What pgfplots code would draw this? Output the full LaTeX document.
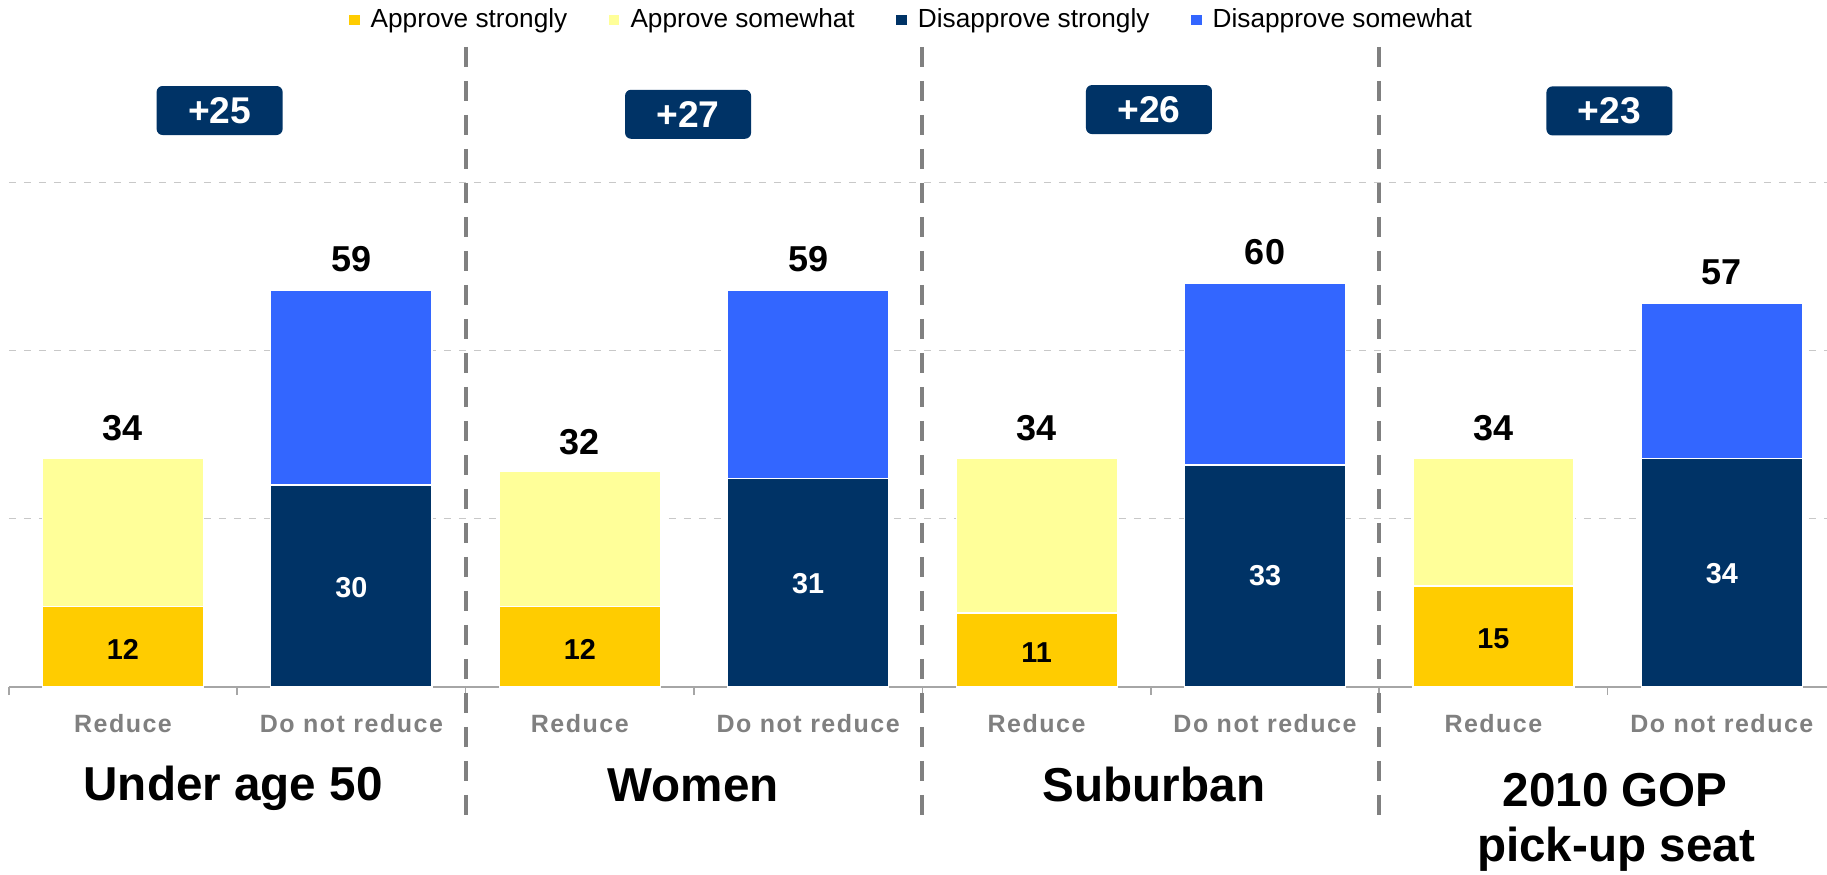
\documentclass[border=0pt]{standalone}
\usepackage{pgfplots}
\pgfplotsset{compat=1.18}
\usepackage{fontspec}
\setmainfont{Liberation Sans}
\newfontfamily\spacedfont[LetterSpace=6]{Liberation Sans}
\definecolor{apstrong}{HTML}{FFCC00}
\definecolor{apsome}{HTML}{FFFF99}
\definecolor{disstrong}{HTML}{003366}
\definecolor{dissome}{HTML}{3366FF}
\definecolor{sepgray}{HTML}{808080}
\definecolor{gridgray}{HTML}{C8C8C8}
\definecolor{axgray}{HTML}{A6A6A6}
\definecolor{catgray}{HTML}{808080}

\pgfplotsset{
  common/.style={x=114.2pt, y=3.365pt, xmin=-0.5, xmax=7.4606, ymin=0, ymax=102.08, clip=false},
  sq/.style={legend image code/.code={\fill[##1] (0pt,-3pt) rectangle (6pt,3pt);}},
  lab/.style={only marks, mark=text, text mark={}, nodes near coords, point meta=explicit symbolic},
}

\begin{document}
\begin{tikzpicture}
\begin{axis}[common,
  ybar stacked, bar width=80.5pt,
  axis line style={draw=none},
  ytick={25,50,75}, yticklabels={}, ytick style={draw=none},
  ymajorgrids=true, grid style={gridgray, dash pattern=on 3.5pt off 4pt, line width=0.5pt},
  xtick={-0.5,0.5,...,6.5}, xticklabels={},
  tick align=outside, xtick pos=bottom, major tick length=4pt,
  xtick style={axgray, line width=0.75pt},
  legend columns=4,
  legend style={at={(0.4955,0.971)}, anchor=center, draw=none, fill=none,
    inner sep=0pt, font=\fontsize{13.1}{15}\selectfont,
    nodes={inner sep=0pt},
    /tikz/every odd column/.append style={column sep=5pt},
    /tikz/every even column/.append style={column sep=20pt}},
]
\addplot[fill=apstrong, draw=white, line width=0.6pt, sq] coordinates {(0,12) (1,0) (2,12) (3,0) (4,11) (5,0) (6,15) (7,0)};
\addplot[fill=apsome, draw=white, line width=0.6pt, sq] coordinates {(0,22) (1,0) (2,20) (3,0) (4,23) (5,0) (6,19) (7,0)};
\addplot[fill=disstrong, draw=white, line width=0.6pt, sq] coordinates {(0,0) (1,30) (2,0) (3,31) (4,0) (5,33) (6,0) (7,34)};
\addplot[fill=dissome, draw=white, line width=0.6pt, sq] coordinates {(0,0) (1,29) (2,0) (3,28) (4,0) (5,27) (6,0) (7,23)};
\legend{Approve strongly, Approve somewhat, Disapprove strongly, Disapprove somewhat}
\draw[axgray, line width=0.75pt] (axis cs:-0.5,0) -- (axis cs:7.4606,0);
\draw[sepgray, line width=2pt, dash pattern=on 10pt off 7pt] (axis cs:1.5,95.1) -- (axis cs:1.5,-19.0);
\draw[sepgray, line width=2pt, dash pattern=on 10pt off 7pt] (axis cs:3.5,95.1) -- (axis cs:3.5,-19.0);
\draw[sepgray, line width=2pt, dash pattern=on 10pt off 7pt] (axis cs:5.5,95.1) -- (axis cs:5.5,-19.0);
\coordinate (bbl) at (axis cs:-0.5385,-27.79);
\coordinate (btr) at (axis cs:7.4606,102.08);
\end{axis}
\begin{axis}[common, hide axis]
\addplot[lab, every node near coord/.append style={anchor=center, font=\bfseries\fontsize{14.4}{17}\selectfont, text=black}]
  coordinates {(0,5.6)[12] (2,5.6)[12] (4,5.1)[11] (6,7.1)[15]};
\addplot[lab, every node near coord/.append style={anchor=center, font=\bfseries\fontsize{14.4}{17}\selectfont, text=white}]
  coordinates {(1,14.7)[30] (3,15.3)[31] (5,16.5)[33] (7,16.9)[34]};
\addplot[lab, every node near coord/.append style={anchor=center, font=\bfseries\fontsize{18}{21}\selectfont, text=black}]
  coordinates {(0,38.4)[34] (1,63.6)[59] (2,36.4)[32] (3,63.6)[59] (4,38.4)[34] (5,64.6)[60] (6,38.4)[34] (7,61.6)[57]};
\addplot[lab, every node near coord/.append style={anchor=base, font=\spacedfont\bfseries\fontsize{12.5}{15}\selectfont, text=catgray}]
  coordinates {(0,-6.69)[Reduce] (1,-6.69)[Do not reduce] (2,-6.69)[Reduce] (3,-6.69)[Do not reduce] (4,-6.69)[Reduce] (5,-6.69)[Do not reduce] (6,-6.69)[Reduce] (7,-6.69)[Do not reduce]};
\addplot[lab, every node near coord/.append style={anchor=center, fill=disstrong, rounded corners=3pt, minimum width=63pt, minimum height=24.5pt, inner sep=0pt, font=\bfseries\fontsize{18.6}{21}\selectfont, text=white}]
  coordinates {(0.423,85.66)[+25] (2.474,85.1)[+27] (4.492,85.8)[+26] (6.508,85.6)[+23]};
\node[anchor=base, font=\bfseries\fontsize{23.8}{28}\selectfont] at (axis cs:0.482,-16.8) {Under age 50};
\node[anchor=base, font=\bfseries\fontsize{23.8}{28}\selectfont] at (axis cs:2.496,-17.0) {Women};
\node[anchor=base, font=\bfseries\fontsize{23.8}{28}\selectfont] at (axis cs:4.514,-17.0) {Suburban};
\node[anchor=base, font=\bfseries\fontsize{23.8}{28}\selectfont] at (axis cs:6.533,-17.8) {2010 GOP};
\node[anchor=base, font=\bfseries\fontsize{23.8}{28}\selectfont] at (axis cs:6.537,-26.0) {pick-up seat};
\end{axis}
\pgfresetboundingbox
\path[use as bounding box] (bbl) rectangle (btr);
\end{tikzpicture}
\end{document}
